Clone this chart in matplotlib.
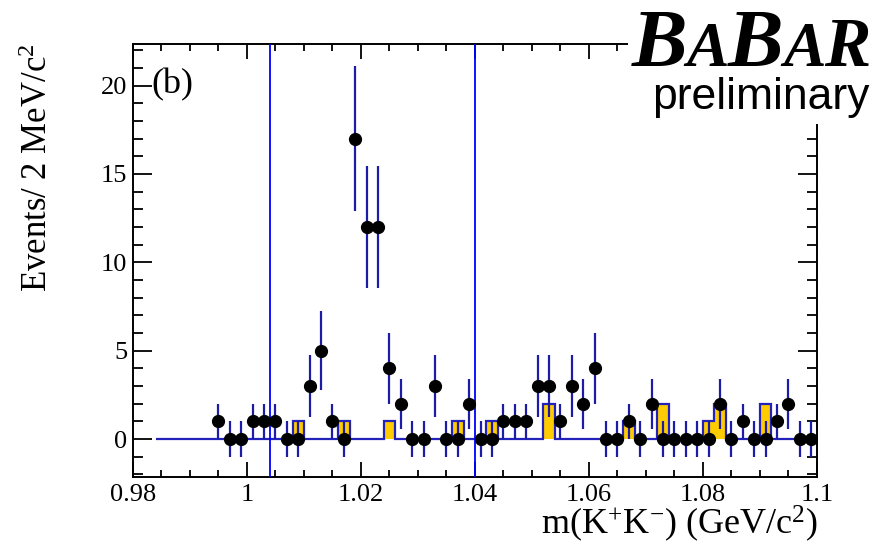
import numpy as np
import matplotlib
matplotlib.use("Agg")
import matplotlib.pyplot as plt
from matplotlib.ticker import FixedLocator, FixedFormatter, MultipleLocator
from matplotlib.transforms import IdentityTransform
from matplotlib.patches import Rectangle

# ---- data: K+K- invariant mass, 2 MeV bins ----
bin_width = 0.002
data_first_center = 0.995
data_counts = [1, 0, 0, 1, 1, 1, 0, 0, 3, 5,
               1, 0, 17, 12, 12, 4, 2, 0, 0, 3,
               0, 0, 2, 0, 0, 1, 1, 1, 3, 3,
               1, 3, 2, 4, 0, 0, 1, 0, 2, 0,
               0, 0, 0, 0, 2, 0, 1, 0, 0, 1,
               2, 0, 0]

# background histogram (same binning, starting at 0.984)
bkg_low_edge = 0.984
bkg_counts = [0] * 58
bkg_bins = {1.009: 1, 1.017: 1, 1.025: 1, 1.037: 1, 1.043: 1, 1.053: 2,
            1.067: 1, 1.073: 2, 1.081: 1, 1.083: 2, 1.091: 2}

# signal-region boundaries
cut_lines = [1.004, 1.040]

x_ticks = [0.98, 1.00, 1.02, 1.04, 1.06, 1.08, 1.10]
x_tick_labels = ["0.98", "1", "1.02", "1.04", "1.06", "1.08", "1.1"]
y_ticks = [0, 5, 10, 15, 20]
y_tick_labels = ["0", "5", "10", "15", "20"]

# ---- derived arrays ----
centers = data_first_center + bin_width * np.arange(len(data_counts))
counts = np.array(data_counts, dtype=float)
yerr = np.sqrt(np.maximum(counts, 1.0))

bkg = np.array(bkg_counts, dtype=float)
for c, v in bkg_bins.items():
    bkg[int(round((c - bkg_low_edge - bin_width / 2) / bin_width))] = v
bkg_edges = bkg_low_edge + bin_width * np.arange(len(bkg) + 1)

# ---- style ----
plt.rcParams["font.family"] = ["Liberation Serif", "DejaVu Serif"]
plt.rcParams["mathtext.default"] = "regular"
W, H = 885, 555
DPI = 100
fig = plt.figure(figsize=(W / DPI, H / DPI), dpi=DPI)
ax = fig.add_axes([133 / W, 1 - 477 / H, 684 / W, 433 / H])

blue_line = "#2222bb"
err_col = "#1c1ca8"

ax.stairs(bkg, bkg_edges, fill=True, facecolor="#ffcc00", edgecolor="none",
          zorder=2)
ax.stairs(bkg, bkg_edges, fill=False, edgecolor=blue_line, linewidth=1.6,
          zorder=3)

for xc in cut_lines:
    ax.axvline(xc, color="#0000ff", linewidth=1.3, zorder=3)

ax.errorbar(centers, counts, yerr=yerr, xerr=bin_width / 2, fmt="o",
            color="black", markersize=8.5, ecolor=err_col, elinewidth=1.6,
            capsize=0, zorder=5)

ax.set_xlim(0.98, 1.10)
ax.set_ylim(-2.15, 22.35)

ax.xaxis.set_major_locator(FixedLocator(x_ticks))
ax.xaxis.set_major_formatter(FixedFormatter(x_tick_labels))
ax.xaxis.set_minor_locator(MultipleLocator(0.005))
ax.yaxis.set_major_locator(FixedLocator(y_ticks))
ax.yaxis.set_major_formatter(FixedFormatter(y_tick_labels))
ax.yaxis.set_minor_locator(MultipleLocator(1))

ax.tick_params(which="both", direction="in", top=True, right=True,
               width=1.3, labelsize=19, colors="black")
ax.tick_params(axis="x", which="major", length=10.5, pad=5)
ax.tick_params(axis="x", which="minor", length=5)
ax.tick_params(axis="y", which="major", length=13.5, pad=4)
ax.tick_params(axis="y", which="minor", length=7)
for s in ax.spines.values():
    s.set_linewidth(1.4)

ax.text(0.027, 0.905, "(b)", transform=ax.transAxes, fontsize=26,
        ha="left", va="center")

fig.text(39 / W, 1 - 43 / H, "Events/ 2 MeV/c$^{2}$", rotation=90,
         fontsize=25, ha="center", va="top")
fig.text(818 / W, 1 - 524 / H, "m(K$^{+}$K$^{-}$) (GeV/c$^{2}$)",
         fontsize=26, ha="right", va="center")

# ---- experiment logo in the upper-right corner ----
fig.patches.append(Rectangle((628, H - 124), W - 628, 124, transform=None,
                             facecolor="white", edgecolor="none", zorder=10))
fig.canvas.draw()
renderer = fig.canvas.get_renderer()
xpos = 632
baseline = H - 66
for ch, size in [("B", 60), ("A", 46), ("B", 60), ("A", 46), ("R", 50)]:
    t = fig.text(xpos, baseline, ch, transform=IdentityTransform(),
                 fontsize=size, fontweight="bold", fontstyle="italic",
                 family="Liberation Serif", ha="left", va="baseline",
                 zorder=11)
    xpos = t.get_window_extent(renderer).x1 - 1
fig.text(652, H - 109, "preliminary", transform=IdentityTransform(),
         fontsize=32, family="Liberation Sans", ha="left", va="baseline",
         zorder=11)

fig.savefig("out.png", dpi=DPI)
